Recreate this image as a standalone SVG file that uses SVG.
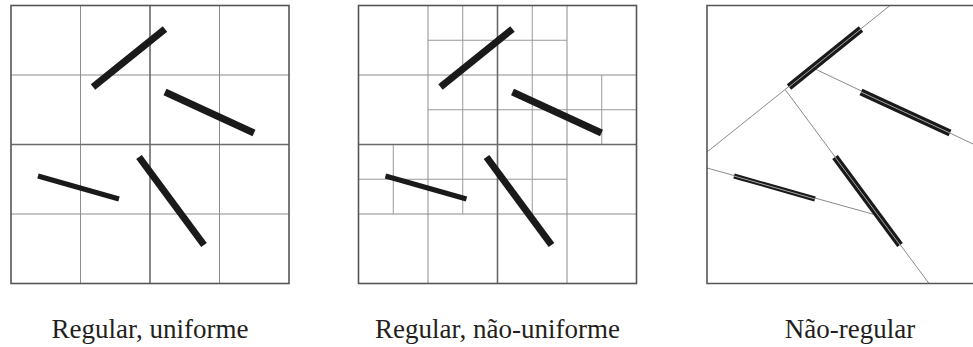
<svg xmlns="http://www.w3.org/2000/svg" width="973" height="347" viewBox="0 0 973 347">
  <style>
    .bg { fill: #ffffff; }
    .box { fill: none; stroke: #555555; stroke-width: 1.6; }
    .grid { stroke: #8c8c8c; stroke-width: 1; fill: none; }
    .major { stroke: #6a6a6a; stroke-width: 1.6; fill: none; }
    .sub { stroke: #999999; stroke-width: 1; fill: none; }
    .seg { stroke: #1a1a1a; stroke-linecap: butt; fill: none; }
    .core { stroke: #a8a8a8; stroke-width: 1; fill: none; }
    .thin { stroke: #8a8a8a; stroke-width: 1; fill: none; }
    .label { font-family: "Liberation Serif", "Times New Roman", serif; font-size: 27px; fill: #231f20; text-anchor: middle; }
  </style>
  <defs>
    <g id="segments">
      <line class="seg" x1="93" y1="87" x2="165" y2="29" stroke-width="7"/>
      <line class="seg" x1="165" y1="92" x2="254" y2="133" stroke-width="7"/>
      <line class="seg" x1="38" y1="176" x2="119" y2="199" stroke-width="5"/>
      <line class="seg" x1="139" y1="157" x2="204" y2="245" stroke-width="7"/>
    </g>
  </defs>
  <rect class="bg" x="0" y="0" width="973" height="347"/>

  <g id="panel-uniforme">
    <g class="grid-lines">
      <line class="grid" x1="80.5" y1="5.5" x2="80.5" y2="283.5"/>
      <line class="grid" x1="219.5" y1="5.5" x2="219.5" y2="283.5"/>
      <line class="grid" x1="11" y1="75" x2="289" y2="75"/>
      <line class="grid" x1="11" y1="214" x2="289" y2="214"/>
      <line class="major" x1="150" y1="5.5" x2="150" y2="283.5"/>
      <line class="major" x1="11" y1="144.5" x2="289" y2="144.5"/>
    </g>
    <rect class="box" x="11" y="5.5" width="278" height="278"/>
    <use href="#segments"/>
  </g>

  <g id="panel-nao-uniforme">
    <g class="grid-lines">
      <line class="sub" x1="462.75" y1="5.5" x2="462.75" y2="214"/>
      <line class="sub" x1="532.25" y1="5.5" x2="532.25" y2="214"/>
      <line class="sub" x1="601.75" y1="75" x2="601.75" y2="144.5"/>
      <line class="sub" x1="393.25" y1="144.5" x2="393.25" y2="214"/>
      <line class="sub" x1="428" y1="40.25" x2="567" y2="40.25"/>
      <line class="sub" x1="428" y1="109.75" x2="636.5" y2="109.75"/>
      <line class="sub" x1="358.5" y1="179.25" x2="567" y2="179.25"/>
      <line class="grid" x1="428" y1="5.5" x2="428" y2="283.5"/>
      <line class="grid" x1="567" y1="5.5" x2="567" y2="283.5"/>
      <line class="grid" x1="358.5" y1="75" x2="636.5" y2="75"/>
      <line class="grid" x1="358.5" y1="214" x2="636.5" y2="214"/>
      <line class="major" x1="497.5" y1="5.5" x2="497.5" y2="283.5"/>
      <line class="major" x1="358.5" y1="144.5" x2="636.5" y2="144.5"/>
    </g>
    <rect class="box" x="358.5" y="5.5" width="278" height="278"/>
    <use href="#segments" transform="translate(347.5,0)"/>
  </g>

  <g id="panel-nao-regular">
    <g class="partition-lines">
      <line class="thin" x1="890" y1="5.5" x2="707" y2="152"/>
      <line class="thin" x1="813" y1="68" x2="973" y2="144"/>
      <line class="thin" x1="785.5" y1="90" x2="929" y2="283.5"/>
      <line class="thin" x1="707" y1="168" x2="876" y2="215"/>
    </g>
    <path class="box" d="M973,5.5 H707 V283.5 H973"/>
    <g transform="translate(696,0)">
      <use href="#segments"/>
      <line class="core" x1="93" y1="87" x2="165" y2="29"/>
      <line class="core" x1="165" y1="92" x2="254" y2="133"/>
      <line class="core" x1="38" y1="176" x2="119" y2="199"/>
      <line class="core" x1="139" y1="157" x2="204" y2="245"/>
    </g>
  </g>

  <g id="labels">
    <text class="label" x="150" y="338">Regular, uniforme</text>
    <text class="label" x="497.5" y="338">Regular, não-uniforme</text>
    <text class="label" x="850" y="338">Não-regular</text>
  </g>
</svg>
